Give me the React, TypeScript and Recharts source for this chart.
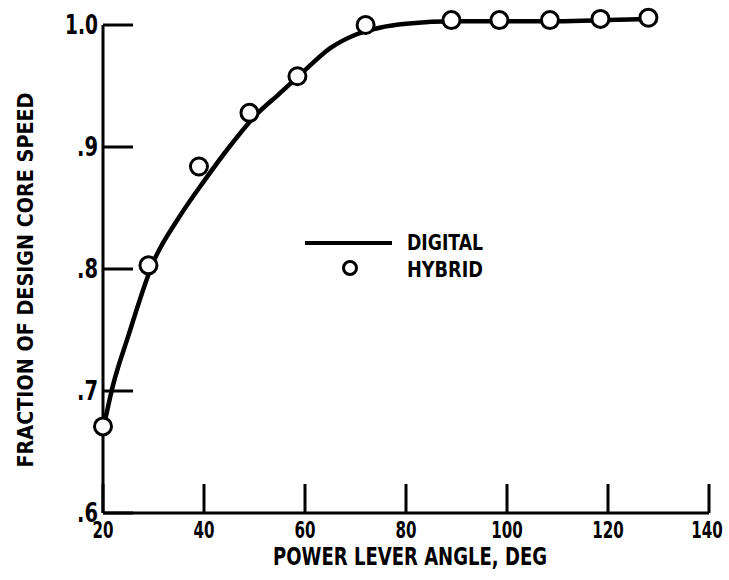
import React from 'react';
import { LineChart, Line, XAxis, YAxis, ReferenceLine } from 'recharts';

// power lever angle, deg → fraction of design core speed
const digitalAngle = [20, 22, 25, 30, 35, 40, 45, 50, 55, 60, 65, 70, 75, 80, 90, 100, 110, 120, 128];
const digitalSpeed = [0.668, 0.705, 0.745, 0.806, 0.842, 0.872, 0.9, 0.925, 0.944, 0.963, 0.981, 0.992, 0.998, 1.001, 1.003, 1.003, 1.003, 1.004, 1.005];

const hybridAngle = [20, 29, 39, 49, 58.5, 72, 89, 98.5, 108.5, 118.5, 128];
const hybridSpeed = [0.671, 0.803, 0.884, 0.928, 0.958, 1.0, 1.004, 1.004, 1.004, 1.005, 1.006];

const xTicks = [20, 40, 60, 80, 100, 120, 140];
const yTicks = [0.6, 0.7, 0.8, 0.9, 1.0];

const digitalData = digitalAngle.map((x, i) => ({ x, y: digitalSpeed[i] }));
const hybridData = hybridAngle.map((x, i) => ({ x, y: hybridSpeed[i] }));

const FONT = "'Liberation Sans Narrow', 'DejaVu Sans Condensed', 'Liberation Sans', sans-serif";
const INK = '#000';

function fmtY(v: number): string {
  return v >= 1 ? '1.0' : '.' + Math.round(v * 10);
}

// rough widths of the condensed lettering in the scan
function digitsWidth(s: string, digit: number, dot: number): number {
  let w = 0;
  for (const c of s) w += c === '.' ? dot : digit;
  return w;
}

function XTick(props: any) {
  const { x, y, payload } = props;
  const label = String(payload.value);
  // last label hugs the right edge in the scan, nudge it in a little
  const dx = payload.value === 140 ? -2 : 0;
  return (
    <g>
      <line x1={x} y1={y} x2={x} y2={y - 29} stroke={INK} strokeWidth={3} />
      <text
        x={x + dx} y={y + 25} textAnchor="middle"
        fontFamily={FONT} fontWeight="bold" fontSize={23} fill={INK}
        textLength={digitsWidth(label, 10.5, 6)} lengthAdjust="spacingAndGlyphs"
      >
        {label}
      </text>
    </g>
  );
}

function YTick(props: any) {
  const { x, y, payload } = props;
  const label = fmtY(payload.value);
  return (
    <g>
      <line x1={x} y1={y} x2={x + 30} y2={y} stroke={INK} strokeWidth={3} />
      <text
        x={x - 5} y={y + 9} textAnchor="end"
        fontFamily={FONT} fontWeight="bold" fontSize={26} fill={INK}
        textLength={digitsWidth(label, 12, 9)} lengthAdjust="spacingAndGlyphs"
      >
        {label}
      </text>
    </g>
  );
}

function XTitle(props: any) {
  const { x, y, width } = props.viewBox;
  return (
    <text
      x={x + width / 2 + 4} y={y + 52} textAnchor="middle"
      fontFamily={FONT} fontWeight="bold" fontSize={24} fill={INK}
      textLength={274} lengthAdjust="spacingAndGlyphs"
    >
      POWER LEVER ANGLE, DEG
    </text>
  );
}

function YTitle(props: any) {
  const { x, y, height } = props.viewBox;
  const cx = x - 10;
  const cy = y + height - 233;
  return (
    <text
      x={cx} y={cy} textAnchor="middle" transform={`rotate(-90, ${cx}, ${cy})`}
      fontFamily={FONT} fontWeight="bold" fontSize={22} fill={INK}
      textLength={375} lengthAdjust="spacingAndGlyphs"
    >
      FRACTION OF DESIGN CORE SPEED
    </text>
  );
}

function LegendBox() {
  // sits in the open area right of the rising part of the curve
  return (
    <svg width={200} height={60} style={{ position: 'absolute', left: 295, top: 225 }}>
      <line x1={10} y1={18} x2={97} y2={18} stroke={INK} strokeWidth={4} />
      <circle cx={55} cy={43} r={6.5} fill="#fff" stroke={INK} strokeWidth={3} />
      <text x={112} y={25} fontFamily={FONT} fontWeight="bold" fontSize={21} fill={INK}
        textLength={76} lengthAdjust="spacingAndGlyphs">DIGITAL</text>
      <text x={112} y={52} fontFamily={FONT} fontWeight="bold" fontSize={21} fill={INK}
        textLength={76} lengthAdjust="spacingAndGlyphs">HYBRID</text>
    </svg>
  );
}

export default function App() {
  return (
    <div style={{ position: 'absolute', left: 0, top: 0, width: 729, height: 580, background: '#fff' }}>
      <LineChart width={729} height={580} margin={{ top: 0.6, right: 20, bottom: 37, left: 43 }}>
        <XAxis
          type="number" dataKey="x" domain={[20, 140]} ticks={xTicks} interval={0}
          axisLine={{ stroke: INK, strokeWidth: 3 }} tickLine={false}
          tickSize={0} tickMargin={0} height={30}
          tick={<XTick />} label={<XTitle />}
        />
        {/* domain runs a touch past 1.0 so the circles above it aren't clipped;
            the visible axis stops at 1.0 via the reference segment below */}
        <YAxis
          type="number" dataKey="y" domain={[0.6, 1.02]} ticks={yTicks} interval={0}
          axisLine={false} tickLine={false} tickSize={0} tickMargin={0} width={60}
          tick={<YTick />} label={<YTitle />}
        />
        <ReferenceLine
          segment={[{ x: 20, y: 0.6 }, { x: 20, y: 1.0 }]}
          stroke={INK} strokeWidth={3}
        />
        <Line
          data={digitalData} dataKey="y" type="monotone"
          stroke={INK} strokeWidth={4.5} dot={false}
          isAnimationActive={false}
        />
        <Line
          data={hybridData} dataKey="y"
          stroke="none" strokeWidth={0}
          dot={{ r: 8.5, fill: '#fff', stroke: INK, strokeWidth: 3 }}
          activeDot={false}
          isAnimationActive={false}
        />
      </LineChart>
      <LegendBox />
    </div>
  );
}
